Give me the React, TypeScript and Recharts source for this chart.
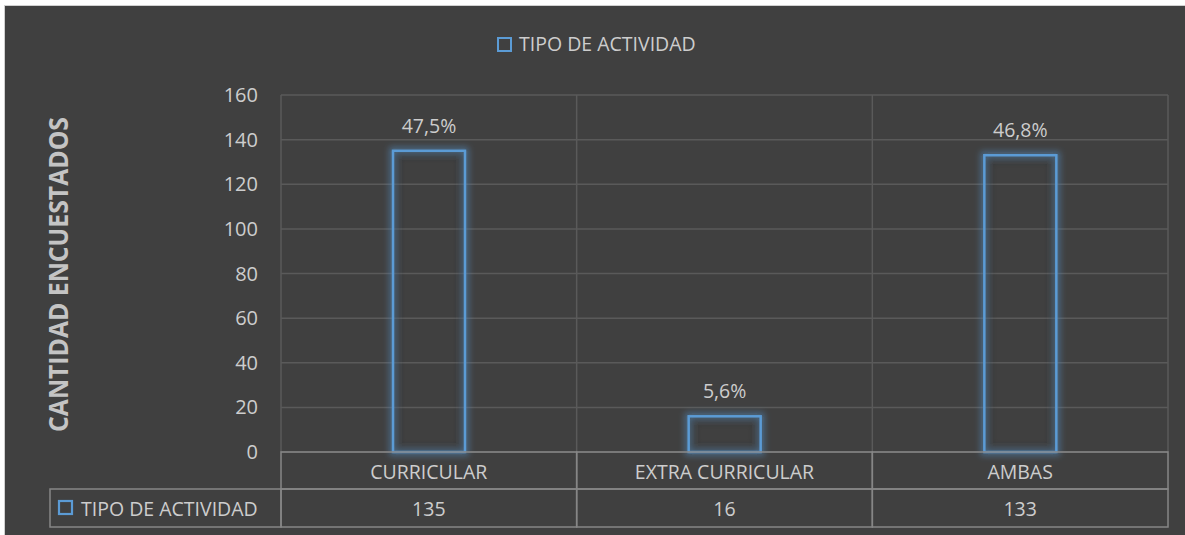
import React from 'react';
import { BarChart, Bar, XAxis, YAxis, CartesianGrid, ReferenceLine, LabelList, Label } from 'recharts';

const categories = ['CURRICULAR', 'EXTRA CURRICULAR', 'AMBAS'];
const counts = [135, 16, 133];
const percentLabels = ['47,5%', '5,6%', '46,8%'];
const yTicks = [0, 20, 40, 60, 80, 100, 120, 140, 160];
const seriesName = 'TIPO DE ACTIVIDAD';
const yTitle = 'CANTIDAD ENCUESTADOS';

const data = categories.map((c, i) => ({ name: c, value: counts[i], pct: percentLabels[i] }));

const FONT = '"Open Sans", "Noto Sans", sans-serif';
const TEXT = '#cdcdcd';
const GRID = '#5a5a5a';
const TABLE = '#868686';
const BLUE = '#5b9bd5';
const BG = '#404040';

const GlowBar = (props: any) => {
  const { x, y, width, height } = props;
  if (height == null || width == null) return null;
  return (
    <g>
      <rect x={x} y={y} width={width} height={height} fill="none" stroke={BLUE} strokeWidth={7} strokeOpacity={0.55} filter="url(#glow)" />
      <rect x={x + 3} y={y + 3} width={Math.max(width - 6, 0)} height={Math.max(height - 6, 0)} fill="none" stroke="#333" strokeWidth={6} strokeOpacity={0.35} filter="url(#glow)" />
      <rect x={x} y={y} width={width} height={height} fill="none" stroke={BLUE} strokeWidth={2.5} />
    </g>
  );
};

const TableTick = (props: any) => {
  const { x, y, payload, index } = props;
  const bw = payload && payload.offset ? payload.offset * 2 : 295.7;
  const left = x - bw / 2;
  const rowH = 37;
  const val = counts[index];
  return (
    <g>
      <rect x={left} y={y} width={bw} height={rowH} fill="none" stroke={TABLE} strokeWidth={1.5} />
      <rect x={left} y={y + rowH} width={bw} height={rowH + 1} fill="none" stroke={TABLE} strokeWidth={1.5} />
      <text x={x} y={y + 19} textAnchor="middle" dominantBaseline="central" fill={TEXT} fontFamily={FONT} fontSize={19.5}>
        {payload.value}
      </text>
      <text x={x} y={y + 56} textAnchor="middle" dominantBaseline="central" fill={TEXT} fontFamily={FONT} fontSize={19.5}>
        {val}
      </text>
      {index === 0 && (
        <g>
          <rect x={50} y={y + rowH} width={left - 50} height={rowH + 1} fill="none" stroke={TABLE} strokeWidth={1.5} />
          <rect x={59} y={y + rowH + 12} width={13} height={13} fill="none" stroke={BLUE} strokeWidth={2.2} />
          <text x={81} y={y + 56} textAnchor="start" dominantBaseline="central" fill={TEXT} fontFamily={FONT} fontSize={19.5}>
            {seriesName}
          </text>
        </g>
      )}
    </g>
  );
};

const YTitle = (p: any) => {
  const vb = p.viewBox || { y: 95, height: 357 };
  const cx = 57;
  const cy = vb.y + vb.height / 2 + 1;
  return (
    <text
      x={cx}
      y={cy}
      transform={`rotate(-90 ${cx} ${cy})`}
      textAnchor="middle"
      dominantBaseline="central"
      fill="#c4c4c4"
      fontFamily={FONT}
      fontWeight={700}
      fontSize={27}
      textLength={315}
      lengthAdjust="spacingAndGlyphs"
    >
      {yTitle}
    </text>
  );
};

export default function App() {
  return (
    <div style={{ position: 'relative', width: 1185, height: 535, background: '#ffffff', overflow: 'hidden' }}>
      <style>{'body{margin:0}'}</style>
      <div
        style={{
          position: 'absolute',
          left: 4,
          top: 5,
          right: 0,
          bottom: 0,
          background: BG,
          borderLeft: '1px solid #d0d0d0',
          borderTop: '1px solid #d0d0d0',
        }}
      />
      <div
        style={{
          position: 'absolute',
          left: 497,
          top: 32,
          display: 'flex',
          alignItems: 'center',
          fontFamily: FONT,
          fontSize: 19.5,
          color: TEXT,
          lineHeight: '24px',
          whiteSpace: 'nowrap',
        }}
      >
        <span style={{ display: 'inline-block', width: 11, height: 11, border: `2.2px solid ${BLUE}`, marginRight: 7 }} />
        {seriesName}
      </div>
      <div style={{ position: 'absolute', left: 0, top: 0 }}>
        <BarChart width={1185} height={535} data={data} margin={{ top: 95, right: 17, bottom: 0, left: 0 }}>
          <defs>
            <filter id="glow" x="-50%" y="-50%" width="200%" height="200%">
              <feGaussianBlur stdDeviation="3" />
            </filter>
          </defs>
          <CartesianGrid vertical={false} stroke={GRID} strokeWidth={1.5} />
          <XAxis
            dataKey="name"
            height={83}
            axisLine={false}
            tickLine={false}
            tickSize={0}
            tickMargin={0}
            interval={0}
            tick={<TableTick />}
          />
          <YAxis
            width={281}
            domain={[0, 160]}
            ticks={yTicks}
            axisLine={false}
            tickLine={false}
            tickSize={0}
            tickMargin={23}
            tick={{ fill: TEXT, fontFamily: FONT, fontSize: 20 }}
          >
            <Label content={<YTitle />} />
          </YAxis>
          {categories.map((c) => (
            <ReferenceLine key={c + '-s'} x={c} position="start" stroke={GRID} strokeWidth={1.5} ifOverflow="visible" />
          ))}
          <ReferenceLine x={categories[categories.length - 1]} position="end" stroke={GRID} strokeWidth={1.5} ifOverflow="visible" />
          <Bar dataKey="value" barSize={72} shape={<GlowBar />} isAnimationActive={false}>
            <LabelList dataKey="pct" position="top" offset={18} fill={TEXT} fontFamily={FONT} fontSize={19.5} />
          </Bar>
        </BarChart>
      </div>
    </div>
  );
}
